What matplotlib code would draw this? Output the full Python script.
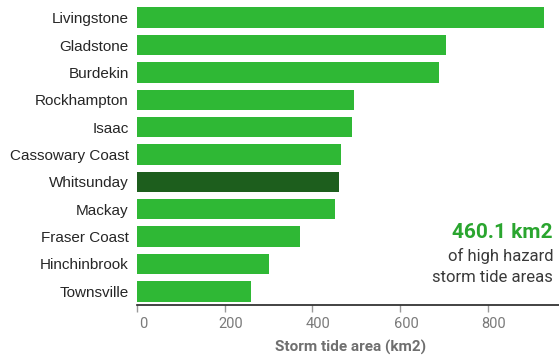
import matplotlib
matplotlib.use("Agg")
import matplotlib.pyplot as plt
import matplotlib.transforms as mtransforms

categories = ["Livingstone", "Gladstone", "Burdekin", "Rockhampton", "Isaac",
              "Cassowary Coast", "Whitsunday", "Mackay", "Fraser Coast",
              "Hinchinbrook", "Townsville"]
values = [928, 704, 689, 495, 490, 464, 460.1, 451, 371, 301, 259]
highlight = "Whitsunday"
xticks = [0, 200, 400, 600, 800]

fig = plt.figure(figsize=(5.59, 3.55), dpi=100)
ax = fig.add_axes([137/559, 50/355, 422/559, 301/355])

colors = ["#1d5e1d" if c == highlight else "#2fb835" for c in categories]
ypos = list(range(len(categories)))
ax.barh(ypos, values, height=0.75, color=colors)
ax.set_ylim(len(categories) - 0.5, -0.5)
ax.set_xlim(0, 962)

ax.set_yticks(ypos)
ax.set_yticklabels(categories, family="Liberation Sans", fontsize=11, color="#262626")
ax.tick_params(axis="y", length=0, pad=6)

ax.set_xticks(xticks)
ax.set_xticklabels([str(t) for t in xticks], family="Roboto", fontsize=10.5, color="#7a7a7a")
ax.tick_params(axis="x", length=5, color="#999999", width=1, pad=4)
offset = mtransforms.ScaledTranslation(6/100, 0, fig.dpi_scale_trans)
for lbl in ax.get_xticklabels():
    lbl.set_transform(lbl.get_transform() + offset)

for s in ["top", "right", "left"]:
    ax.spines[s].set_visible(False)
ax.spines["bottom"].set_color("#222222")
ax.spines["bottom"].set_linewidth(1.2)

fig.text(351/559, 1 - 347/355, "Storm tide area (km2)", ha="center", va="center",
         family="Roboto", fontsize=11, fontweight="bold", color="#6f6f6f")

fig.text(553/559, 1 - 232/355, "460.1 km2", ha="right", va="center",
         family="Roboto", fontsize=15, fontweight="bold", color="#2aa52f")
fig.text(553/559, 1 - 256/355, "of high hazard", ha="right", va="center",
         family="Roboto", fontsize=12, color="#3a3a3a")
fig.text(553/559, 1 - 277/355, "storm tide areas", ha="right", va="center",
         family="Roboto", fontsize=12, color="#3a3a3a")

fig.savefig("out.png", dpi=100)
